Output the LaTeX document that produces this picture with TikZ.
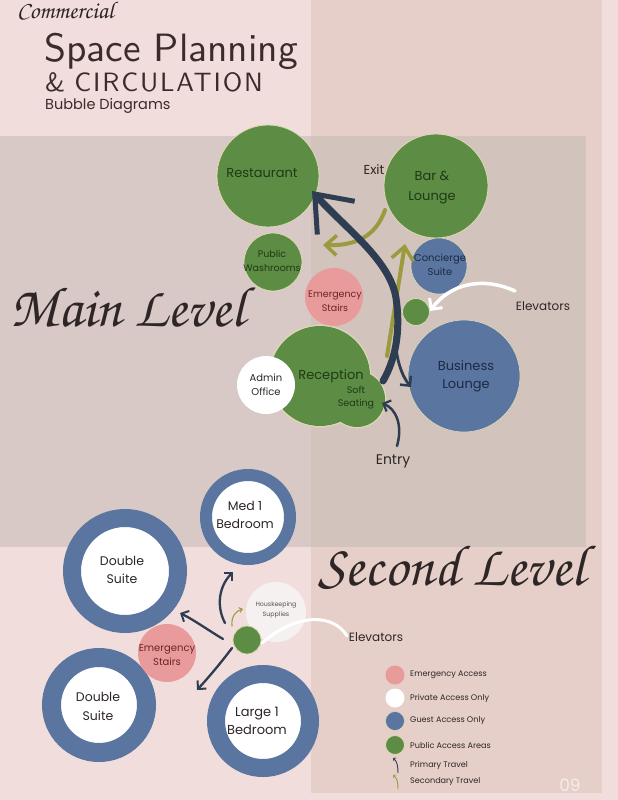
\documentclass[tikz,border=0pt]{standalone}
\usepackage{fontspec}
\setmainfont{Poppins}
\newfontfamily\titlefont{lmsans10-regular.otf}
\newfontfamily\spacedfont[LetterSpace=7]{lmsans10-regular.otf}
\newfontfamily\handfont{texgyrechorus-mediumitalic.otf}
\usetikzlibrary{arrows.meta}
\newcommand\fsz[2]{\fontsize{#1}{#2}\selectfont}
\definecolor{bgpink}{HTML}{F1DDDB}
\definecolor{panel}{HTML}{E5CFC8}
\definecolor{grayov}{HTML}{C5BAB5}
\definecolor{cgreen}{HTML}{5D8C44}
\definecolor{cgreenedge}{HTML}{DCD9B4}
\definecolor{cblue}{HTML}{5A76A0}
\definecolor{cpink}{HTML}{E89B9A}
\definecolor{chouse}{HTML}{F5F1F0}
\definecolor{cnavy}{HTML}{2F3D52}
\definecolor{colive}{HTML}{9B9B3E}
\definecolor{tgreen}{HTML}{1E3A16}
\definecolor{tblue}{HTML}{1C2A44}
\definecolor{tpink}{HTML}{6E2424}
\definecolor{tdark}{HTML}{2E2626}
\definecolor{ttitle}{HTML}{3B2B2B}
\definecolor{tlight}{HTML}{F6ECEA}
\begin{document}
\begin{tikzpicture}[x=1pt,y=-1pt,
  bub/.style={circle,inner sep=0pt,minimum size=#1},
  gbub/.style={bub=#1,fill=cgreen,draw=cgreenedge,line width=0.8pt},
  bbub/.style={bub=#1,fill=cblue,draw=cgreenedge,line width=0.6pt},
  pbub/.style={bub=#1,fill=cpink},
  wbub/.style={bub=#1,fill=white},
  ring/.style={bub=#1,fill=white,draw=cblue},
  txt/.style={align=center,inner sep=0pt},
  gtxt/.style={txt,text=tgreen},
  btxt/.style={txt,text=tblue},
  ptxt/.style={txt,text=tpink},
  dtxt/.style={txt,text=tdark},
  legtxt/.style={anchor=west,inner sep=0pt,text=tdark,font=\fsz{8.1}{9}},
  navyline/.style={draw=cnavy,line cap=round},
  oliveline/.style={draw=colive,line cap=round},
  whiteline/.style={draw=white,line cap=round}
]
\useasboundingbox (0,0) rectangle (618,800);
% backgrounds
\fill[bgpink] (0,0) rectangle (618,800);
\fill[panel] (311,0) rectangle (602,793);
\fill[grayov,opacity=0.55] (0,136) rectangle (586,547);

% titles
\node[anchor=base west,inner sep=0pt,text=tdark,font=\handfont\fsz{24}{24}] (comm) at (17,19) {Commercial};
\node[anchor=base west,inner sep=0pt,text=ttitle,font=\titlefont\fsz{39.5}{40}] (t1) at (44,62) {Space Planning};
\node[anchor=base west,inner sep=0pt,text=ttitle,font=\spacedfont\fsz{26.5}{27}] (t2) at (45,91) {\&\hspace{9pt}CIRCULATION};
\node[anchor=base west,inner sep=0pt,text=ttitle,font=\fsz{14.5}{15}] (t3) at (45,109) {Bubble Diagrams};

\node[anchor=base west,inner sep=0pt,text=tdark,font=\handfont\fsz{57}{57}] (mainlvl) at (10,326) {Main Level};
\node[anchor=base west,inner sep=0pt,text=tdark,font=\handfont\fsz{58}{58}] (seclvl) at (318,585) {Second Level};

% ---------- main level bubbles ----------
\node[gbub=102pt] (rest) at (268,176) {};
\node[gbub=104pt] (bar) at (436,186) {};
\node[gbub=58pt] (wash) at (273,262) {};
\node[bbub=56pt] (conc) at (439,266) {};
\node[pbub=58pt] (emer) at (334,297) {};
\node[gbub=27pt] (elev) at (416,312) {};
\node[bub=101pt,draw=cgreenedge,line width=1.6pt] (recepo) at (320,376) {};
\node[bub=57pt,draw=cgreenedge,line width=1.6pt] (softo) at (357,399) {};
\node[bub=100pt,fill=cgreen] (recep) at (320,376) {};
\node[bub=56pt,fill=cgreen] (soft) at (357,399) {};
\node[wbub=58pt] (admin) at (266,385) {};
\node[bbub=112pt] (biz) at (464,376) {};

\node[gtxt,font=\fsz{13}{17}] (restt) at (262,173) {Restaurant};
\node[gtxt,font=\fsz{13}{20}] (bart) at (432,188) {Bar \&\\Lounge};
\node[gtxt,font=\fsz{9.5}{14}] (washt) at (272,261) {Public\\Washrooms};
\node[btxt,font=\fsz{10}{14}] (conct) at (440,265) {Concierge\\Suite};
\node[ptxt,font=\fsz{9.5}{14}] (emert) at (335,301) {Emergency\\Stairs};
\node[gtxt,font=\fsz{13}{17}] (recept) at (331,376) {Reception};
\node[gtxt,font=\fsz{9.5}{13}] (softt) at (356,398) {Soft\\Seating};
\node[dtxt,font=\fsz{10}{14}] (admint) at (266,385) {Admin\\Office};
\node[btxt,font=\fsz{13}{18}] (bizt) at (466,376) {Business\\Lounge};

\node[dtxt,font=\fsz{13}{17}] (exit) at (374,170) {Exit};
\node[dtxt,font=\fsz{12}{16}] (elevl) at (543,306) {Elevators};
\node[dtxt,font=\fsz{14}{18}] (entry) at (393,461) {Entry};

% ---------- main level arrows ----------
\coordinate (olA1) at (385,210);
\coordinate (olA2) at (323,245);
\coordinate (olB1) at (387,356);
\coordinate (olB2) at (405,244);
\draw[oliveline,line width=4pt,-{Straight Barb[length=11pt,width=20pt,line width=3.5pt]}]
  (olA1) .. controls (376,236) and (356,246) .. (olA2);
\draw[oliveline,line width=4pt,-{Straight Barb[length=13pt,width=22pt,line width=3.5pt]}]
  (olB1) -- (olB2);

\coordinate (nvA1) at (383,381);
\coordinate (nvMid) at (396,298);
\coordinate (nvA2) at (312,191);
\draw[navyline,line width=7pt,-{Straight Barb[length=32pt,width=50pt,line width=5pt]}]
  (nvA1) .. controls (398,355) and (400,325) .. (nvMid)
  .. controls (390,260) and (345,228) .. (nvA2);
\coordinate (nvB1) at (395,336);
\coordinate (nvB2) at (411,387);
\draw[navyline,line width=2.8pt,-{Straight Barb[length=7pt,width=14pt,line width=2.5pt]}]
  (nvB1) .. controls (396,360) and (402,376) .. (nvB2);
\coordinate (ent1) at (397,446);
\coordinate (ent2) at (382,403);
\draw[navyline,line width=2.5pt,-{Straight Barb[length=6pt,width=12pt,line width=2.2pt]}]
  (ent1) .. controls (403,425) and (396,409) .. (ent2);

\coordinate (wh1) at (515,291);
\coordinate (wh2) at (430,311);
\draw[whiteline,line width=3.5pt,-{Straight Barb[length=8pt,width=16pt,line width=3pt]}]
  (wh1) .. controls (482,276) and (450,284) .. (wh2);

% ---------- second level bubbles ----------
\node[ring=84pt,line width=12pt] (med) at (248,517) {};
\node[ring=106pt,line width=18pt] (dsA) at (125,571) {};
\node[ring=95pt,line width=19pt] (dsB) at (99,705) {};
\node[ring=94pt,line width=18pt] (large) at (263,721) {};
\node[pbub=58pt] (emer2) at (167,653) {};
\node[bub=60pt,fill=chouse] (house) at (276,612) {};
\node[gbub=28pt] (elev2) at (247,640) {};

\node[dtxt,font=\fsz{12.5}{18}] (medt) at (245,515) {Med 1\\Bedroom};
\node[dtxt,font=\fsz{12.5}{18}] (dsAt) at (122,570) {Double\\Suite};
\node[dtxt,font=\fsz{12.5}{19}] (dsBt) at (98,706) {Double\\Suite};
\node[dtxt,font=\fsz{13}{18}] (larget) at (257,721) {Large 1\\Bedroom};
\node[ptxt,font=\fsz{10}{14}] (emer2t) at (167,655) {Emergency\\Stairs};
\node[txt,text=tdark!80,font=\fsz{6.3}{10}] (houset) at (276,610) {Houskeeping\\Supplies};
\node[dtxt,font=\fsz{12}{16}] (elevl2) at (376,637) {Elevators};

% ---------- second level arrows ----------
\coordinate (w2a) at (347,636);
\coordinate (w2b) at (262,643);
\draw[whiteline,line width=3pt] (w2a) .. controls (334,614) and (298,612) .. (w2b);

\coordinate (s1a) at (225,623);
\coordinate (s1b) at (233,572);
\draw[navyline,line width=2.3pt,-{Straight Barb[length=6pt,width=12pt,line width=2pt]}]
  (s1a) .. controls (216,606) and (219,586) .. (s1b);
\coordinate (s2a) at (223,639);
\coordinate (s2b) at (180,613);
\draw[navyline,line width=2.3pt,-{Straight Barb[length=6pt,width=12pt,line width=2pt]}]
  (s2a) .. controls (208,630) and (194,620) .. (s2b);
\coordinate (s3a) at (232,648);
\coordinate (s3b) at (197,690);
\draw[navyline,line width=2.3pt,-{Straight Barb[length=6pt,width=12pt,line width=2pt]}]
  (s3a) .. controls (220,664) and (208,678) .. (s3b);
\coordinate (s4a) at (232,626);
\coordinate (s4b) at (243,609);
\draw[oliveline,line width=1.1pt,-{Straight Barb[length=3pt,width=5pt,line width=1pt]}]
  (s4a) .. controls (231,616) and (236,611) .. (s4b);

% ---------- legend ----------
\node[pbub=19pt] (lg1) at (395,675) {};
\node[wbub=19pt] (lg2) at (395,698) {};
\node[bbub=19pt] (lg3) at (395,721) {};
\node[gbub=19pt] (lg4) at (395,745) {};
\node[legtxt] (lg1t) at (410,675) {Emergency Access};
\node[legtxt] (lg2t) at (410,698) {Private Access Only};
\node[legtxt] (lg3t) at (410,721) {Guest Access Only};
\node[legtxt] (lg4t) at (410,745) {Public Access Areas};
\node[legtxt] (lg5t) at (410,765) {Primary Travel};
\node[legtxt] (lg6t) at (410,782) {Secondary Travel};
\coordinate (lp1) at (398,773);
\coordinate (lp2) at (393,758);
\draw[navyline,line width=0.9pt,-{Straight Barb[length=2pt,width=4pt,line width=0.8pt]}]
  (lp1) .. controls (398,766) and (397,761) .. (lp2);
\coordinate (ls1) at (398,789);
\coordinate (ls2) at (393,775);
\draw[oliveline,line width=0.9pt,-{Straight Barb[length=2pt,width=4pt,line width=0.8pt]}]
  (ls1) .. controls (398,782) and (397,778) .. (ls2);

\node[txt,text=tlight,font=\fsz{17}{20}] (pg) at (570,785) {09};
\end{tikzpicture}
\end{document}
